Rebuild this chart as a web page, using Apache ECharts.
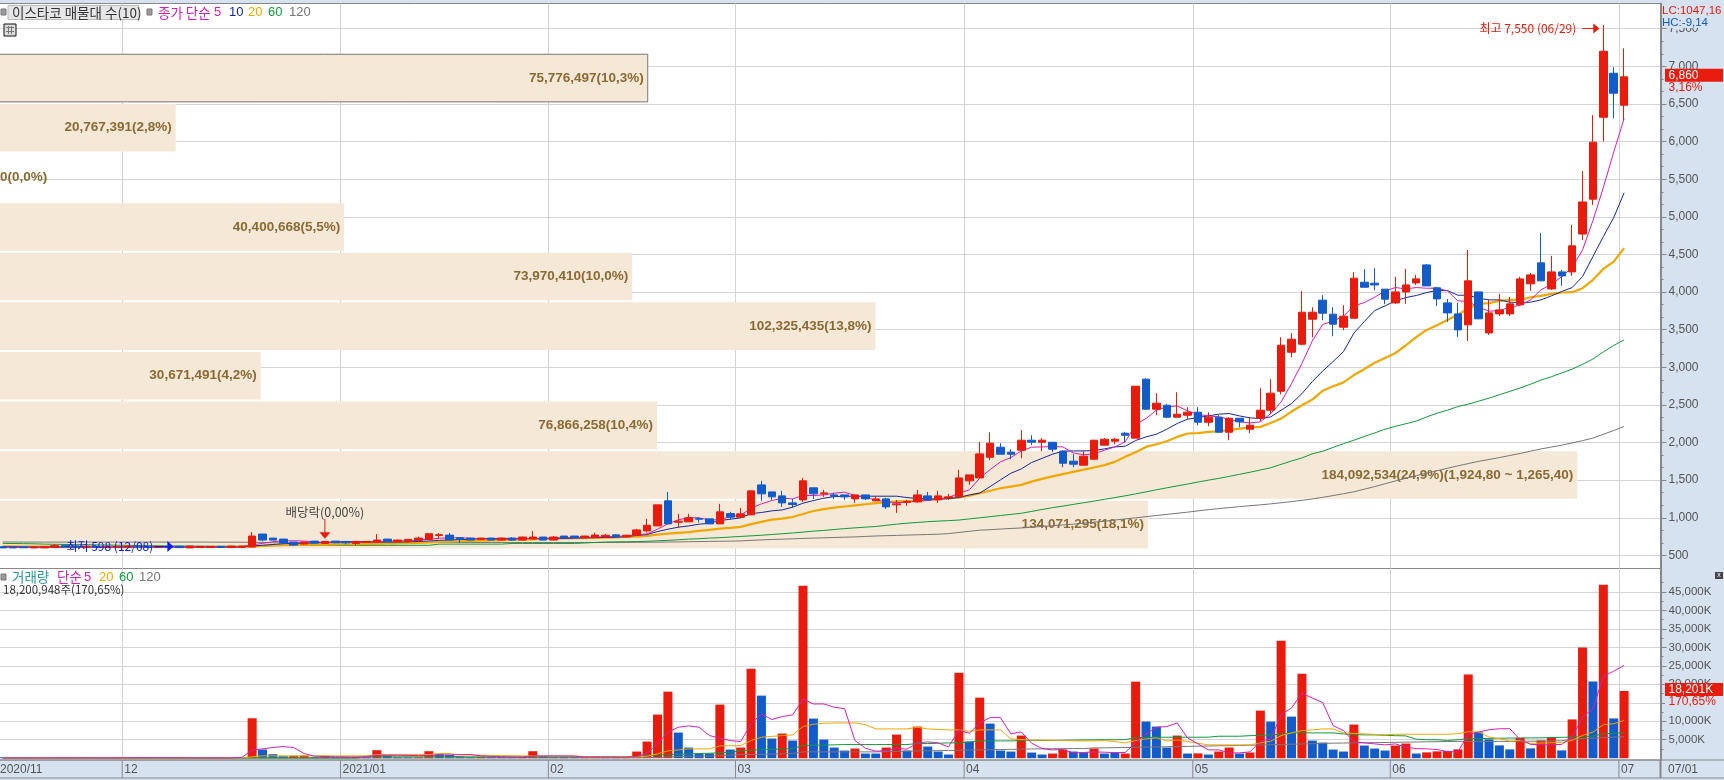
<!DOCTYPE html>
<html>
<head>
<meta charset="utf-8">
<title>이스타코 매물대</title>
<style>
html, body { margin: 0; padding: 0; background: #d6e2f0; }
#chart { width: 1724px; height: 780px; }
</style>
<script src="https://cdn.jsdelivr.net/npm/echarts@6/dist/echarts.min.js"></script>
</head>
<body>
<div id="chart"></div>
<script>
// 일봉 [시가, 종가, 저가, 고가]
var candles = [
  [615,600,598,620],[610,600,600,615],[612,602,600,615],[600,612,598,615],[600,615,598,618],
  [605,630,600,651],[633,612,608,635],[625,615,610,628],[610,622,606,626],[622,610,606,625],
  [608,618,605,622],[610,620,608,624],[610,624,608,628],[624,612,608,626],[618,606,602,620],
  [606,618,602,622],[616,604,600,618],[622,604,598,624],[600,624,600,626],[606,620,600,622],
  [608,620,606,622],[620,606,604,622],[608,624,606,626],[608,624,606,628],[611,757,611,810],
  [784,704,686,784],[730,704,704,730],[717,664,651,717],[677,637,630,677],[651,677,637,677],
  [690,664,660,690],[659,686,655,690],[690,668,664,690],[686,668,646,686],[659,686,637,686],
  [673,686,670,690],[677,704,677,784],[717,686,686,717],[686,704,686,710],[686,713,686,713],
  [699,730,699,748],[713,788,713,788],[766,775,717,797],[770,704,704,797],[735,713,668,735],
  [730,704,700,735],[713,730,705,735],[730,704,700,735],[704,730,700,735],[730,704,695,744],
  [704,744,700,750],[717,744,715,823],[744,704,700,744],[704,744,700,757],[757,730,725,757],
  [757,735,730,760],[735,757,730,762],[740,770,735,801],[746,768,733,786],[773,751,742,782],
  [746,768,733,775],[768,839,760,853],[826,901,804,986],[892,1172,892,1172],[1225,919,919,1344],
  [941,955,861,1052],[946,999,946,1052],[990,981,937,1008],[986,919,919,986],[919,1079,919,1185],
  [1056,1008,972,1079],[1008,1052,1008,1132],[1039,1358,1039,1358],[1437,1318,1225,1491],[1344,1278,1238,1344],
  [1291,1198,1145,1358],[1198,1176,1132,1251],[1238,1491,1211,1530],[1398,1318,1251,1398],[1318,1331,1278,1371],
  [1304,1287,1251,1331],[1304,1278,1238,1304],[1251,1304,1198,1304],[1304,1251,1238,1304],[1225,1251,1225,1291],
  [1251,1145,1118,1265],[1172,1185,1065,1238],[1207,1216,1158,1238],[1211,1304,1198,1371],[1291,1238,1238,1344],
  [1238,1291,1198,1358],[1265,1278,1238,1318],[1278,1530,1278,1637],[1491,1570,1437,1570],[1530,1849,1530,2009],
  [1805,1991,1765,2137],[1938,1845,1845,1991],[1872,1845,1778,1911],[1898,2031,1792,2164],[2031,2004,1965,2097],
  [2004,2031,1885,2058],[2004,1911,1872,2004],[1885,1725,1672,1898],[1752,1712,1672,1845],[1699,1818,1699,1885],
  [1778,2031,1778,2031],[1965,2044,1960,2060],[2018,2044,1978,2058],[2124,2097,2004,2142],[2058,2749,2058,2749],
  [2842,2443,2443,2855],[2443,2523,2363,2656],[2496,2337,2323,2509],[2337,2377,2337,2669],[2363,2403,2310,2470],
  [2403,2270,2230,2470],[2270,2337,2217,2403],[2337,2137,2137,2363],[2137,2323,2031,2337],[2323,2275,2204,2323],
  [2177,2230,2124,2337],[2323,2430,2284,2722],[2430,2656,2377,2842],[2682,3294,2642,3400],[3200,3373,3134,3453],
  [3307,3732,3294,4011],[3639,3732,3400,3799],[3892,3719,3626,3958],[3706,3573,3413,3799],[3533,3679,3493,3826],
  [3652,4184,3652,4264],[4131,4064,4064,4304],[4118,4095,4024,4317],[4038,3905,3839,4038],[3856,4002,3843,4202],
  [4002,4095,3843,4308],[4122,4175,4095,4228],[4361,4082,4082,4374],[4056,3909,3816,4069],[3856,3723,3604,3909],
  [3710,3497,3404,3856],[3564,4149,3351,4561],[4002,3644,3644,4002],[3457,3723,3431,3896],[3710,3763,3683,3976],
  [3710,3843,3683,3936],[3830,4175,3830,4202],[4109,4228,4016,4255],[4388,4149,4149,4786],[4042,4268,4029,4481],
  [4268,4215,4082,4295],[4268,4614,4215,4893],[4771,5197,4690,5608],[5234,5991,5157,6350],[6323,7200,6000,7550],
  [6908,6642,6310,6988],[6483,6860,6283,7240]
]
var ma5 = [
  610,608,607,606,606,610,614,618,618,618,
  616,614,614,615,614,612,612,611,612,612,
  612,613,614,615,640,660,682,694,695,690,
  680,672,672,674,675,675,680,685,692,696,
  704,715,728,735,735,728,722,715,715,716,
  722,728,728,730,735,738,740,745,748,752,
  758,773,786,848,919,972,1003,999,972,972,
  1017,1034,1127,1185,1229,1260,1251,1296,1296,1304,
  1327,1340,1296,1269,1238,1211,1203,1203,1225,1229,
  1251,1269,1327,1371,1526,1641,1743,1801,1889,1938,
  1942,1947,1942,1863,1836,1849,1898,1942,2009,2239,
  2319,2430,2474,2487,2421,2372,2354,2341,2310,2275,
  2261,2275,2385,2540,2784,3050,3350,3570,3615,3680,
  3816,3860,3931,4016,4060,4042,4060,4051,4051,4016,
  3883,3874,3799,3745,3754,3799,3825,3896,4029,4104,
  4206,4326,4560,4950,5390,5860,6306
]
var ma10 = [
  615,613,612,611,610,610,610,610,612,612,
  612,613,614,615,615,614,614,614,614,613,
  613,613,613,614,625,635,645,655,660,662,
  665,672,680,682,684,682,680,678,678,680,
  685,692,700,706,710,715,722,725,726,726,
  726,724,723,724,726,730,733,736,738,742,
  750,765,777,817,848,875,892,915,928,963,
  981,999,1056,1070,1092,1105,1141,1194,1229,1260,
  1282,1287,1287,1287,1287,1287,1287,1269,1256,1251,
  1247,1256,1269,1304,1327,1415,1504,1592,1650,1735,
  1790,1845,1885,1889,1889,1894,1916,1942,1951,2027,
  2075,2111,2177,2253,2310,2332,2354,2377,2385,2354,
  2328,2319,2341,2430,2518,2650,2810,2950,3076,3209,
  3453,3608,3754,3816,3883,3927,3954,3994,4020,4020,
  3958,3958,3918,3896,3896,3865,3861,3865,3896,3949,
  4007,4060,4206,4472,4738,4990,5318
]
var ma20 = [
  622,620,618,617,616,616,615,615,614,614,
  614,613,613,613,613,612,612,612,612,612,
  612,613,613,614,620,626,632,635,638,640,
  642,644,646,648,650,652,654,657,660,663,
  667,672,678,683,688,692,696,700,703,706,
  710,714,718,722,725,728,731,733,735,740,
  745,750,760,775,790,800,810,825,840,855,
  865,880,915,945,975,990,1010,1050,1090,1115,
  1135,1150,1165,1180,1195,1205,1217,1224,1230,1238,
  1248,1258,1270,1295,1328,1360,1393,1415,1437,1480,
  1517,1550,1580,1610,1640,1668,1700,1743,1810,1872,
  1942,1978,2018,2075,2120,2124,2142,2150,2165,2186,
  2199,2208,2261,2319,2412,2496,2571,2687,2749,2800,
  2897,2975,3060,3125,3190,3290,3400,3497,3560,3630,
  3697,3785,3843,3852,3883,3896,3896,3931,3949,3976,
  3994,3998,4051,4162,4308,4405,4583
]
var ma60 = [
  660,658,656,654,650,648,646,644,642,640,
  638,636,634,632,630,628,626,625,624,623,
  622,621,620,620,620,624,630,631,632,632,
  633,633,633,633,633,633,634,634,634,634,
  634,634,650,650,650,650,650,650,650,659,
  659,659,659,659,659,659,665,672,678,680,
  682,684,688,694,700,708,716,722,730,736,
  744,752,760,768,778,788,798,810,822,832,
  844,856,866,876,884,900,915,928,938,948,
  956,962,970,985,1000,1015,1030,1045,1060,1085,
  1110,1135,1155,1178,1200,1222,1245,1268,1292,1318,
  1344,1372,1398,1424,1448,1475,1500,1524,1550,1578,
  1605,1635,1665,1710,1755,1795,1850,1885,1935,1985,
  2031,2080,2128,2177,2215,2250,2285,2340,2390,2430,
  2478,2510,2550,2590,2635,2680,2725,2775,2830,2875,
  2925,2975,3040,3110,3205,3290,3364
]
var ma120 = [
  678,678,677,677,677,677,677,677,677,677,
  677,677,677,677,677,677,677,677,677,677,
  677,676,676,675,675,672,668,668,668,669,
  669,669,670,670,670,670,670,670,671,671,
  671,671,671,672,672,672,672,672,672,672,
  672,672,672,672,672,672,672,672,672,672,
  673,674,675,676,678,680,682,684,686,688,
  690,692,700,706,712,716,720,726,730,734,
  738,742,746,752,758,762,766,770,774,778,
  782,790,805,820,835,842,850,858,865,875,
  885,895,905,915,928,942,955,970,985,999,
  1015,1030,1045,1060,1075,1092,1108,1122,1135,1148,
  1160,1172,1185,1200,1215,1232,1250,1272,1295,1320,
  1345,1380,1415,1452,1490,1525,1560,1592,1625,1658,
  1690,1720,1750,1775,1800,1828,1855,1885,1915,1940,
  1965,1995,2025,2060,2110,2160,2213
]
// 거래량 (천주)
var volumes = [
  90,80,70,90,80,100,90,80,70,80,
  70,60,220,120,100,90,80,120,80,70,
  60,80,220,150,10812,2343,1081,541,630,720,
  270,630,180,270,360,270,2162,720,270,180,
  270,1892,1081,900,450,270,360,270,270,200,
  360,1892,540,270,270,180,270,360,200,150,
  200,1802,4505,11803,18020,6938,2883,1171,1261,14506,
  2343,2883,24237,16939,5316,6667,4775,46672,10722,5046,
  2883,2072,2613,1261,1261,2883,6397,2072,8560,3154,
  1802,991,23156,4505,16398,9370,2072,1802,6127,1532,
  991,1261,2343,1802,1532,2613,1261,1442,1261,20723,
  9911,8560,2883,6127,1261,1300,991,1802,2883,1261,
  1532,12884,9911,31805,11263,22885,4775,4235,2343,1802,
  9100,3424,2613,2072,3424,3964,1261,1577,1847,1937,
  2388,22660,6983,5090,3469,2388,5541,2658,4820,5541,
  2118,10497,29958,20769,46986,10767,18201
]
// 빨간 거래량 막대 (나머지는 파랑)
var volRedDays = [3,5,12,13,17,21,22,24,28,29,31,33,34,36,40,41,46,50,51,56,57,60,61,62,63,64,69,71,72,75,77,82,85,86,88,92,94,98,101,102,105,108,109,113,115,117,118,120,121,123,125,130,134,135,137,138,139,140,141,146,148,149,151,152,154,156]
var volMa5 = [
  80,80,80,80,80,85,85,85,85,85,
  80,80,110,120,120,120,120,100,90,80,
  70,70,90,200,2162,2523,2900,3154,2883,1261,
  540,480,400,380,340,400,800,800,800,750,
  700,720,900,900,950,991,650,500,400,300,
  300,600,600,620,600,580,300,300,300,280,
  250,450,1350,3874,7028,8379,8740,8379,6127,5406,
  4775,4505,9280,11983,10452,11263,11713,16038,14686,14686,
  13785,13425,4775,2703,1892,2072,2703,2433,4145,4415,
  4145,3063,7568,6757,9550,10992,10992,6577,7118,4055,
  2613,2253,2343,1442,1532,1712,1622,1532,1532,4325,
  6577,8379,8560,9550,5496,3874,2253,2253,1442,1442,
  1712,4595,5226,11803,13605,17569,16308,15047,8830,7478,
  4415,4145,3874,3604,3874,2973,2613,2523,2343,1800,
  1667,6442,7073,7704,7974,7974,5000,3739,3649,3649,
  3739,5721,11127,13380,22120,23562,25093
]
var volMa20 = [
  120,120,120,110,110,110,110,100,100,100,
  100,100,100,100,100,100,100,100,100,100,
  100,100,110,120,360,630,630,630,630,630,
  630,630,630,630,630,630,991,991,991,991,
  991,991,1261,1261,900,850,800,750,700,680,
  630,630,630,630,630,630,360,360,360,360,
  360,300,540,1171,1982,2250,2523,2523,2523,3334,
  3380,3424,4775,5676,5900,6127,6307,8560,9190,9460,
  9550,9550,9550,9100,7929,7929,7929,7929,8379,7929,
  7800,7658,7658,7300,7658,7658,7658,5226,5046,4900,
  4900,4850,4775,4700,4685,4700,4775,4500,4145,4775,
  5226,5496,4685,4955,4505,4055,3604,3604,3604,3604,
  3604,4145,4595,6127,6848,7478,7658,7929,7929,6848,
  6700,6577,6450,6307,6487,6487,6487,6487,6487,6487,
  6622,7163,7163,5721,5270,4640,4820,4009,4100,4189,
  4250,4820,6172,7073,9055,9325,10226
]
var volMa60 = [
  90,90,90,90,90,90,90,90,90,90,
  90,60,60,60,60,60,60,60,60,60,
  60,60,60,60,60,60,60,60,60,60,
  60,60,60,60,60,540,540,540,540,540,
  540,540,540,540,360,360,360,360,360,360,
  360,360,360,360,360,360,360,360,360,380,
  400,500,700,850,991,1080,1170,1260,1350,1442,
  1620,1982,2160,2343,2400,2500,2613,3424,3500,3560,
  3620,3694,3694,3694,3694,3694,3694,3694,3964,3964,
  4050,4145,4145,4400,4685,4685,4685,4685,4775,4775,
  4775,4800,4850,4900,4955,4955,5000,5000,5046,5500,
  5676,5676,5676,5676,5676,5676,5700,5947,5947,5947,
  6100,6200,6307,6500,6848,6848,6848,6848,6848,6577,
  6400,6307,6307,6200,6100,6036,5136,5000,5000,4800,
  5000,5271,5300,5350,5400,5451,5451,5500,5500,5600,
  5650,5721,5850,5992,6622,6750,6893
]
var volMa120 = [
  50,50,50,50,50,50,50,50,50,50,
  50,50,50,50,50,50,50,50,50,50,
  50,50,50,50,50,50,50,50,50,50,
  60,60,60,60,60,60,60,70,70,70,
  70,70,80,80,80,80,80,80,80,80,
  80,85,85,85,85,90,90,90,90,90,
  100,120,150,200,300,450,500,550,600,700,
  850,991,1000,1050,1100,1180,1261,1712,1712,1712,
  1712,1712,1712,1712,1712,1800,1850,1900,1982,2000,
  2050,2100,2162,2200,2250,2300,2350,2400,2450,2500,
  2530,2560,2590,2610,2613,2793,2800,2850,2900,2950,
  3000,3050,3100,3150,3200,3250,3300,3350,3400,3450,
  3514,3580,3650,3720,3790,3860,3930,4000,4070,4110,
  4145,4180,4220,4260,4300,4350,4400,4430,4470,4505,
  4550,4550,4550,4550,4550,4550,4600,4600,4650,4650,
  4730,5090,5300,5450,5600,5700,5811
]
// 매물대 10구간
var bandEdges = [7200, 6540.6, 5881.2, 5221.8, 4562.4, 3903, 3243.6, 2584.2, 1924.8, 1265.4, 606]
var bandVolumes = [75776497, 20767391, 0, 40400668, 73970410, 102325435, 30671491, 76866258, 184092534, 134071295]
var bandLabels = [
  '75,776,497(10,3%)', '20,767,391(2,8%)', '0(0,0%)', '40,400,668(5,5%)', '73,970,410(10,0%)',
  '102,325,435(13,8%)', '30,671,491(4,2%)', '76,866,258(10,4%)', '184,092,534(24,9%)(1,924,80 ~ 1,265,40)', '134,071,295(18,1%)'
]
// 월 시작 위치 [일봉 번호, 라벨]
var monthDays = [0, 12, 33, 53, 71, 93, 115, 134, 156]
var monthLabels = ['2020/11', '12', '2021/01', '02', '03', '04', '05', '06', '07']
var priceTicks = [500, 1000, 1500, 2000, 2500, 3000, 3500, 4000, 4500, 5000, 5500, 6000, 6500, 7000, 7500]
var priceMinorTicks = [667, 833, 1167, 1333, 1667, 1833, 2167, 2333, 2667, 2833, 3167, 3333, 3667, 3833, 4167, 4333, 4667, 4833, 5167, 5333, 5667, 5833, 6167, 6333, 6667, 6833, 7167, 7333, 7667]
var volumeTicks = [5000, 10000, 15000, 20000, 25000, 30000, 35000, 40000, 45000]
var volumeMinorTicks = [2500, 7500, 12500, 17500, 22500, 27500, 32500, 37500, 42500, 47500]
var lastPrice = 6860
var lastVolume = 18201

var RED = '#e81b0c', BLUE = '#135bcb', PINK = '#d81eb5', NAVY = '#1428a0', ORANGE = '#f0a800', GREEN = '#0f9a3c', GRAY = '#777777'
var KR = '"Noto Sans CJK KR"', EN = '"Liberation Sans"'
var days = candles.concat([[], [], []]).map(function (d, i) { return String(i) })

function comma(v) {
  return String(v).replace(/\B(?=(\d{3})+$)/g, ',')
}

function monthLine(i) {
  return monthDays.indexOf(i) >= 0
}

function lineSeries(name, data, color, width, xi, yi, z) {
  return {
    name: name, type: 'line', data: data, xAxisIndex: xi, yAxisIndex: yi, z: z,
    symbol: 'none', silent: true, animation: false,
    lineStyle: { color: color, width: width }
  }
}

function text(x, y, str, fill, font, align) {
  return {
    type: 'text', silent: true, z: 30,
    style: { x: x, y: y, text: str, fill: fill, font: font, align: align || 'left', verticalAlign: 'middle' }
  }
}

function square(x, y) {
  return { type: 'rect', silent: true, z: 30, shape: { x: x, y: y, width: 5, height: 6 }, style: { fill: '#9a9a9a', stroke: '#777' } }
}

// 눈금만 있는 보조 축. 오른쪽은 이미 차 있어서 왼쪽 축을 offset으로 옮긴다
function minorAxis(grid, min, max, ticks) {
  return {
    type: 'value', gridIndex: grid, position: 'left', offset: -1663, min: min, max: max,
    axisLine: { show: false }, axisLabel: { show: false }, splitLine: { show: false },
    axisTick: { show: true, inside: true, length: 3, lineStyle: { color: '#888' }, customValues: ticks }
  }
}

// 매물대 막대
function renderBand(params, api) {
  var i = api.value(3)
  var a = api.coord([0, api.value(2)])
  var b = api.coord([api.value(0), api.value(1)])
  var top = a[1] + 3, bottom = b[1] + 1, right = b[0]
  var children = [{
    type: 'rect',
    shape: { x: -4, y: top, width: right + 4, height: bottom - top },
    style: i === 0 ? { fill: '#f5e8d6', stroke: '#777', lineWidth: 1 } : { fill: '#f5e8d6' }
  }, {
    type: 'text',
    style: {
      x: right > 60 ? right - 4 : 0, y: (top + bottom) / 2, text: bandLabels[i], fill: '#8a6a33',
      font: 'bold 13.5px ' + EN, align: right > 60 ? 'right' : 'left', verticalAlign: 'middle'
    }
  }]
  return { type: 'group', children: children }
}

// 최고/최저/배당락 표시
function renderNote(params, api) {
  var kind = api.value(2)
  var p = api.coord([api.value(0), api.value(1)])
  var x = p[0], y = p[1]
  if (kind === 0) {
    return { type: 'group', children: [
      { type: 'line', shape: { x1: x - 21, y1: y + 3.5, x2: x - 6, y2: y + 3.5 }, style: { stroke: RED, lineWidth: 1 } },
      { type: 'polygon', shape: { points: [[x - 10, y - 1.5], [x - 4, y + 3.5], [x - 10, y + 8.5]] }, style: { fill: RED } },
      text(x - 27, y + 3.5, '최고 7,550 (06/29)', RED, '12px ' + KR, 'right')
    ] }
  }
  if (kind === 1) {
    return { type: 'group', children: [
      { type: 'line', shape: { x1: x - 25, y1: y - 1.5, x2: x - 8, y2: y - 1.5 }, style: { stroke: '#0a1cf0', lineWidth: 1 } },
      { type: 'polygon', shape: { points: [[x - 12, y - 7], [x - 6, y - 1.5], [x - 12, y + 4]] }, style: { fill: '#0a1cf0' } },
      text(x - 113, y - 2, '최저 598 (12/08)', '#0a1cf0', '12px ' + KR)
    ] }
  }
  return { type: 'group', children: [
    { type: 'line', shape: { x1: x, y1: y - 20, x2: x, y2: y - 4 }, style: { stroke: RED, lineWidth: 1 } },
    { type: 'polygon', shape: { points: [[x - 5.5, y - 6.5], [x + 5.5, y - 6.5], [x, y]] }, style: { fill: RED } },
    text(x, y - 27, '배당락(0,00%)', '#444', '12.5px ' + KR, 'center')
  ] }
}

// 오른쪽 현재값 태그
function renderTag(line1, line2) {
  return function (params, api) {
    var y = api.coord([api.value(0), api.value(1)])[1] - 1.5
    return { type: 'group', children: [
      { type: 'rect', shape: { x: 1665, y: y + 6.5, width: 58, height: 12 }, style: { fill: '#d6e2f0' } },
      { type: 'rect', shape: { x: 1665, y: y - 6.5, width: 58, height: 13 }, style: { fill: RED } },
      text(1668.5, y, line1, '#fff', '12px ' + EN),
      text(1668.5, y + 12.5, line2, RED, '12px ' + EN)
    ] }
  }
}

// 아래 날짜 띠
function renderMonth(params, api) {
  var i = params.dataIndex
  var x = api.coord([api.value(0), 0])[0] - api.size([1, 0])[0] / 2
  return { type: 'group', children: [
    { type: 'line', shape: { x1: x, y1: 760, x2: x, y2: 778 }, style: { stroke: '#888', lineWidth: 1 } },
    text(Math.max(x + 2, 0), 769.5, monthLabels[i], '#555', '12px ' + EN)
  ] }
}

var chart = echarts.init(document.getElementById('chart'), null, { renderer: 'canvas' })

var option = {
  animation: false,
  backgroundColor: '#d6e2f0',
  grid: [
    { left: -2.5, top: 3.5, width: 1663, height: 565, outerBoundsMode: 'none', show: true, backgroundColor: '#fff', borderColor: '#888', borderWidth: 1 },
    { left: -2.5, top: 568.5, width: 1663, height: 191.5, outerBoundsMode: 'none', show: true, backgroundColor: '#fff', borderColor: '#888', borderWidth: 1 }
  ],
  xAxis: [
    {
      type: 'category', gridIndex: 0, data: days, boundaryGap: true,
      axisLine: { show: false }, axisTick: { show: false }, axisLabel: { show: false },
      splitLine: { show: true, interval: monthLine, lineStyle: { color: '#d4d4d4', width: 1 } }
    },
    { type: 'value', gridIndex: 0, min: 0, max: 193800000, show: false, splitLine: { show: false } },
    {
      type: 'category', gridIndex: 1, data: days, boundaryGap: true,
      axisLine: { show: false }, axisTick: { show: false }, axisLabel: { show: false },
      splitLine: { show: true, interval: monthLine, lineStyle: { color: '#d4d4d4', width: 1 } }
    }
  ],
  yAxis: [
    {
      type: 'value', gridIndex: 0, position: 'right', min: 326, max: 7835,
      axisLine: { show: true, onZero: false, lineStyle: { color: '#888', width: 2 } },
      axisTick: { show: true, length: 6, lineStyle: { color: '#888' }, customValues: priceTicks },
      axisLabel: { color: '#555', fontFamily: EN, fontSize: 12, margin: 8, customValues: priceTicks, formatter: function (v) { return comma(v) } },
      splitLine: { show: true, lineStyle: { color: '#d4d4d4', width: 1 } }
    },
    {
      type: 'value', gridIndex: 1, position: 'right', min: -487, max: 51353,
      axisLine: { show: true, onZero: false, lineStyle: { color: '#888', width: 2 } },
      axisTick: { show: true, length: 6, lineStyle: { color: '#888' }, customValues: volumeTicks },
      axisLabel: { color: '#555', fontFamily: EN, fontSize: 11.5, margin: 8, customValues: volumeTicks, formatter: function (v) { return comma(v) + 'K' } },
      splitLine: { show: true, lineStyle: { color: '#d4d4d4', width: 1 } }
    },
    minorAxis(0, 326, 7835, priceMinorTicks),
    minorAxis(1, -487, 51353, volumeMinorTicks)
  ],
  series: [
    {
      name: '매물대', type: 'custom', xAxisIndex: 1, yAxisIndex: 0, z: 1, silent: true, clip: false,
      renderItem: renderBand,
      data: bandVolumes.map(function (v, i) { return [v, bandEdges[i + 1], bandEdges[i], i] })
    },
    lineSeries('MA120', ma120, GRAY, 1, 0, 0, 2),
    lineSeries('MA60', ma60, GREEN, 1, 0, 0, 2),
    lineSeries('MA20', ma20, ORANGE, 2.2, 0, 0, 2),
    lineSeries('MA10', ma10, NAVY, 1, 0, 0, 2),
    lineSeries('MA5', ma5, PINK, 1, 0, 0, 2),
    {
      name: '일봉', type: 'candlestick', xAxisIndex: 0, yAxisIndex: 0, z: 3, silent: true, barWidth: 8,
      data: candles,
      itemStyle: { color: RED, color0: BLUE, borderColor: RED, borderColor0: BLUE, borderWidth: 1 }
    },
    {
      name: '표시', type: 'custom', xAxisIndex: 0, yAxisIndex: 0, z: 5, silent: true, clip: false,
      renderItem: renderNote,
      data: [[154, 7550, 0], [17, 598, 1], [31, 720, 2]]
    },
    {
      name: '현재가', type: 'custom', xAxisIndex: 0, yAxisIndex: 0, z: 6, silent: true, clip: false,
      renderItem: renderTag('6,860', '3,16%'),
      data: [[156, lastPrice]]
    },
    {
      name: '거래량', type: 'bar', xAxisIndex: 2, yAxisIndex: 1, z: 2, silent: true, barWidth: 9, barMinHeight: 1,
      data: volumes.map(function (v, i) {
        return { value: v, itemStyle: { color: volRedDays.indexOf(i) >= 0 ? RED : BLUE } }
      })
    },
    lineSeries('VMA120', volMa120, GRAY, 1, 2, 1, 3),
    lineSeries('VMA60', volMa60, GREEN, 1, 2, 1, 3),
    lineSeries('VMA20', volMa20, ORANGE, 1, 2, 1, 3),
    lineSeries('VMA5', volMa5, PINK, 1, 2, 1, 3),
    {
      name: '현재거래량', type: 'custom', xAxisIndex: 2, yAxisIndex: 1, z: 6, silent: true, clip: false,
      renderItem: renderTag('18,201K', '170,65%'),
      data: [[156, lastVolume]]
    },
    {
      name: '월', type: 'custom', xAxisIndex: 2, yAxisIndex: 1, z: 6, silent: true, clip: false,
      renderItem: renderMonth,
      data: monthDays.map(function (d) { return [d, 0] })
    }
  ],
  graphic: [
    // 가격창 범례
    square(1, 9),
    { type: 'rect', silent: true, z: 29, shape: { x: 8, y: 5.5, width: 131, height: 14 }, style: { fill: '#e6e6e6', stroke: '#bbb' } },
    text(12, 12.5, '이스타코 매물대 수(10)', '#333', '13.5px ' + KR),
    square(147, 9),
    text(158, 12.5, '종가 단순', PINK, '13.5px ' + KR),
    text(214, 12.5, '5', PINK, '13px ' + EN),
    text(229, 12.5, '10', NAVY, '13px ' + EN),
    text(248, 12.5, '20', ORANGE, '13px ' + EN),
    text(268, 12.5, '60', GREEN, '13px ' + EN),
    text(289, 12.5, '120', GRAY, '13px ' + EN),
    // 표 아이콘
    { type: 'rect', silent: true, z: 30, shape: { x: 4, y: 24, width: 12, height: 12 }, style: { fill: '#ddd', stroke: '#111', lineWidth: 1 } },
    { type: 'line', silent: true, z: 31, shape: { x1: 6, y1: 27.5, x2: 14, y2: 27.5 }, style: { stroke: '#777' } },
    { type: 'line', silent: true, z: 31, shape: { x1: 6, y1: 31.5, x2: 14, y2: 31.5 }, style: { stroke: '#777' } },
    { type: 'line', silent: true, z: 31, shape: { x1: 8.5, y1: 26, x2: 8.5, y2: 34 }, style: { stroke: '#777' } },
    { type: 'line', silent: true, z: 31, shape: { x1: 11.5, y1: 26, x2: 11.5, y2: 34 }, style: { stroke: '#777' } },
    // 거래량창 범례
    square(1, 574),
    text(12, 577, '거래량', '#2a9a9a', '13.5px ' + KR),
    text(57, 577, '단순', PINK, '13.5px ' + KR),
    text(84, 577, '5', PINK, '13px ' + EN),
    text(99, 577, '20', ORANGE, '13px ' + EN),
    text(119, 577, '60', GREEN, '13px ' + EN),
    text(139, 577, '120', GRAY, '13px ' + EN),
    text(3, 590, '18,200,948주(170,65%)', '#333', '11.5px ' + KR),
    // 오른쪽 위
    { type: 'rect', silent: true, z: 29, shape: { x: 1662, y: 4, width: 62, height: 24 }, style: { fill: '#d6e2f0' } },
    text(1662, 11, 'LC:1047,16', RED, '11.5px ' + EN),
    text(1662, 23, 'HC:-9,14', BLUE, '11.5px ' + EN),
    { type: 'rect', silent: true, z: 30, shape: { x: 1715, y: 572, width: 8, height: 7 }, style: { fill: '#444' } },
    text(1719, 575.5, 'x', '#fff', '7px ' + EN, 'center'),
    // 아래 띠
    { type: 'line', silent: true, z: 30, shape: { x1: 0, y1: 778, x2: 1724, y2: 778 }, style: { stroke: '#888' } },
    { type: 'line', silent: true, z: 30, shape: { x1: 1660.5, y1: 760, x2: 1660.5, y2: 778 }, style: { stroke: '#888', lineWidth: 2 } },
    { type: 'line', silent: true, z: 30, shape: { x1: 0, y1: 760, x2: 1724, y2: 760 }, style: { stroke: '#888' } },
    text(1668, 769.5, '07/01', '#555', '12px ' + EN)
  ]
}

chart.setOption(option)
</script>
</body>
</html>
